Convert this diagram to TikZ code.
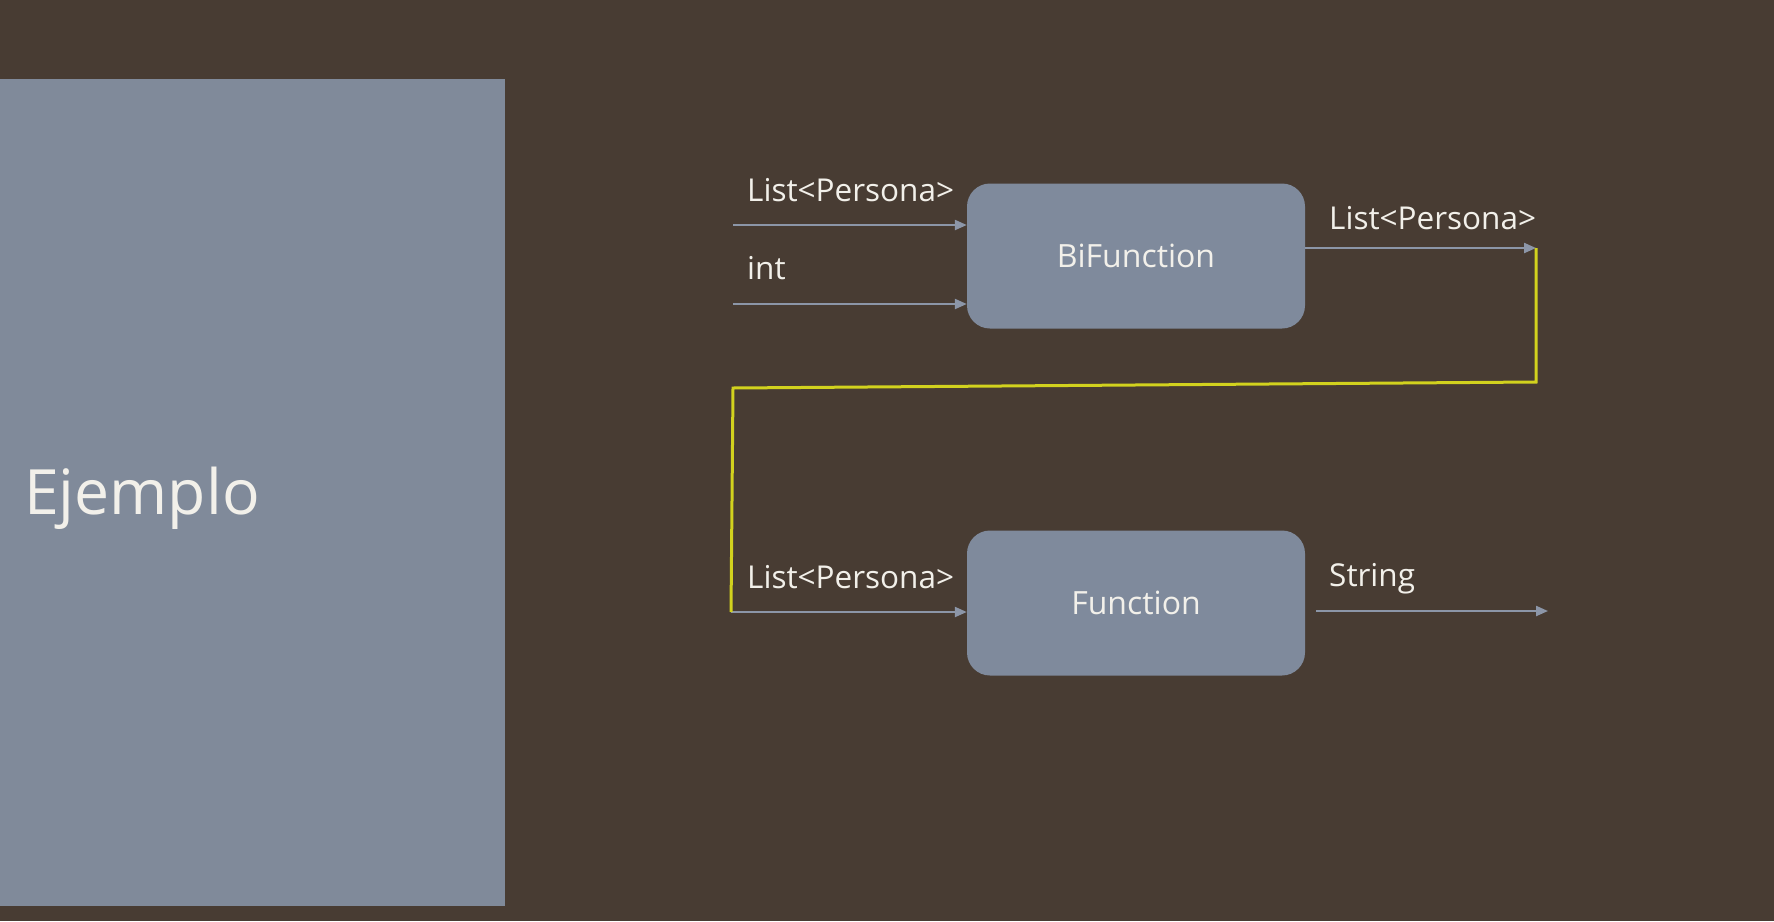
\documentclass[tikz,border=0pt]{standalone}
\usepackage{fontspec}
\setmainfont{Open Sans}
\usetikzlibrary{arrows.meta}
\definecolor{bgc}{HTML}{483C33}
\definecolor{panelc}{HTML}{808A9A}
\definecolor{boxc}{HTML}{7F8A9C}
\definecolor{arrc}{HTML}{8C96A8}
\definecolor{yelc}{HTML}{D2D21E}
\definecolor{txtc}{HTML}{F2F0EA}
\tikzset{
  fbox/.style={draw=none, fill=boxc, rounded corners=23pt, minimum width=338pt, minimum height=145pt, text=txtc, font=\fontsize{32}{38}\selectfont},
  lbl/.style={anchor=west, inner sep=0pt, text=txtc, font=\fontsize{31.5}{36}\selectfont},
  conn/.style={draw=arrc, line width=2.2pt, -{Triangle[length=12pt,width=10pt]}},
  ylink/.style={draw=yelc, line width=3pt, line join=miter}
}
\begin{document}
\begin{tikzpicture}[x=1pt,y=-1pt]
\path[fill=bgc] (0,0) rectangle (1774,921);
\useasboundingbox (0,0) rectangle (1774,921);
\path[fill=panelc] (0,79) rectangle (505,906);
\node[lbl, font=\fontsize{62.5}{72}\selectfont] (ej) at (24,498) {Ejemplo};

\node[fbox] (bif) at (1136,256) {BiFunction};
\node[fbox] (fun) at (1136,603) {Function};

\coordinate (in1) at (733,225);
\coordinate (in2) at (733,304);
\coordinate (in3) at (731,612);
\coordinate (out1) at (1536,248);
\coordinate (out2) at (1548,611);
\coordinate (o2s) at (1316,611);
\coordinate (yr) at (1536,382);
\coordinate (yl) at (733,388);

\draw[conn] (in1) -- (in1 -| bif.west);
\draw[conn] (in2) -- (in2 -| bif.west);
\draw[conn] (out1 -| bif.east) -- (out1);
\draw[conn] (in3) -- (in3 -| fun.west);
\draw[conn] (o2s) -- (out2);
\draw[ylink] (out1) -- (yr) -- (yl) -- (in3);

\node[lbl] (l1) at (747,190) {List<Persona>};
\node[lbl] (l2) at (747,268) {int};
\node[lbl] (l3) at (1329,218) {List<Persona>};
\node[lbl] (l4) at (747,577) {List<Persona>};
\node[lbl] (l5) at (1329,579) {String};
\end{tikzpicture}
\end{document}
